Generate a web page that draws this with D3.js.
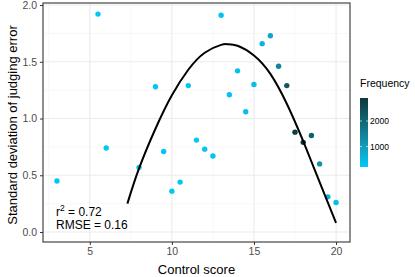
<!DOCTYPE html>
<html>
<head>
<meta charset="utf-8">
<script src="https://cdn.jsdelivr.net/npm/d3@7"></script>
<style>
  body { margin: 0; background: #fff; }
  svg { display: block; font-family: "Liberation Sans", Arial, sans-serif; }
</style>
</head>
<body>
<div id="chart"></div>
<script>
/* points */
const controlScore = [3, 5.5, 6, 8, 9, 9.5, 10, 10.5, 11, 11.5, 12, 12.5, 13, 13.5,
  14, 14.5, 15, 15.5, 16, 16.5, 17, 17.5, 18, 18.5, 19, 19.5, 20];
const judgingSd = [0.45, 1.92, 0.74, 0.57, 1.28, 0.71, 0.36, 0.44, 1.29, 0.81, 0.73, 0.67, 1.91, 1.21,
  1.42, 1.06, 1.30, 1.66, 1.73, 1.46, 1.29, 0.88, 0.79, 0.85, 0.60, 0.31, 0.26];
const frequency = [250, 260, 240, 250, 260, 250, 240, 250, 260, 250, 260, 270, 300, 320,
  330, 350, 400, 550, 800, 1450, 2250, 2800, 2850, 2150, 1150, 600, 350];

/* fitted curve */
const fitX = [7.29, 8, 9, 10, 11, 12, 13, 13.4, 14, 15, 16, 17, 18, 19, 20];
const fitY = [0.25, 0.56, 0.91, 1.205, 1.43, 1.58, 1.649, 1.655, 1.641, 1.555, 1.393, 1.13, 0.8, 0.44, 0.08];

const xTicks = [5, 10, 15, 20];
const yTicks = [0, 0.5, 1, 1.5, 2];
const legendTicks = [1000, 2000];

const W = 415, H = 277;
const margin = { top: 3, right: 65, bottom: 35, left: 43 };

const svg = d3.select("#chart").append("svg")
  .attr("width", W)
  .attr("height", H);

const x = d3.scaleLinear().domain([2.15, 20.85]).range([margin.left, W - margin.right]);
const y = d3.scaleLinear().domain([-0.088, 2.018]).range([H - margin.bottom, margin.top]);

const color = d3.scaleLinear()
  .domain([200, 2900])
  .range(["#00c9f8", "#0b3a3a"])
  .interpolate(d3.interpolateLab);

// grid lines (minor then major)
const grid = svg.append("g");
const xMinor = [2.5, 7.5, 12.5, 17.5];
const yMinor = [0.25, 0.75, 1.25, 1.75];
grid.selectAll(".xminor").data(xMinor).enter().append("line")
  .attr("x1", d => x(d)).attr("x2", d => x(d))
  .attr("y1", y.range()[0]).attr("y2", y.range()[1])
  .attr("stroke", "#f3f3f3").attr("stroke-width", 0.6);
grid.selectAll(".yminor").data(yMinor).enter().append("line")
  .attr("y1", d => y(d)).attr("y2", d => y(d))
  .attr("x1", x.range()[0]).attr("x2", x.range()[1])
  .attr("stroke", "#f3f3f3").attr("stroke-width", 0.6);
grid.selectAll(".xmajor").data(xTicks).enter().append("line")
  .attr("x1", d => x(d)).attr("x2", d => x(d))
  .attr("y1", y.range()[0]).attr("y2", y.range()[1])
  .attr("stroke", "#ebebeb").attr("stroke-width", 1.1);
grid.selectAll(".ymajor").data(yTicks).enter().append("line")
  .attr("y1", d => y(d)).attr("y2", d => y(d))
  .attr("x1", x.range()[0]).attr("x2", x.range()[1])
  .attr("stroke", "#ebebeb").attr("stroke-width", 1.1);

// points
const points = controlScore.map((c, i) => ({ x: c, y: judgingSd[i], f: frequency[i] }));
svg.append("g").selectAll("circle")
  .data(points)
  .enter()
  .append("circle")
  .attr("cx", d => x(d.x))
  .attr("cy", d => y(d.y))
  .attr("r", 2.7)
  .attr("fill", d => color(d.f));

// fitted curve
const fit = fitX.map((v, i) => [v, fitY[i]]);
svg.append("path")
  .datum(fit)
  .attr("fill", "none")
  .attr("stroke", "#000")
  .attr("stroke-width", 2)
  .attr("d", d3.line().x(d => x(d[0])).y(d => y(d[1])).curve(d3.curveNatural));

// panel border
svg.append("rect")
  .attr("x", x.range()[0]).attr("y", y.range()[1])
  .attr("width", x.range()[1] - x.range()[0])
  .attr("height", y.range()[0] - y.range()[1])
  .attr("fill", "none").attr("stroke", "#333").attr("stroke-width", 1.1);

// axes
const xAxis = svg.append("g")
  .attr("transform", `translate(0,${y.range()[0]})`)
  .call(d3.axisBottom(x).tickValues(xTicks).tickSize(3).tickPadding(3).tickFormat(d3.format("d")));
const yAxis = svg.append("g")
  .attr("transform", `translate(${x.range()[0]},0)`)
  .call(d3.axisLeft(y).tickValues(yTicks).tickSize(3).tickPadding(3).tickFormat(d3.format(".1f")));
[xAxis, yAxis].forEach(a => {
  a.select(".domain").remove();
  a.selectAll(".tick line").attr("stroke", "#333");
  a.selectAll(".tick text").attr("fill", "#4d4d4d").style("font-size", "10.5px")
    .style("font-family", "Liberation Sans, Arial, sans-serif");
});

// axis titles
svg.append("text")
  .attr("x", (x.range()[0] + x.range()[1]) / 2)
  .attr("y", 274)
  .attr("text-anchor", "middle")
  .style("font-size", "13px")
  .text("Control score");
svg.append("text")
  .attr("transform", `translate(12,125) rotate(-90)`)
  .attr("dy", "0.35em")
  .attr("text-anchor", "middle")
  .style("font-size", "13px")
  .text("Standard deviation of judging error");

// fit stats
const stats = svg.append("text").style("font-size", "12px");
stats.append("tspan").attr("x", 56).attr("y", 216).text("r");
stats.append("tspan").attr("dy", -5).style("font-size", "8.5px").text("2");
stats.append("tspan").attr("dy", 5).text(" = 0.72");
svg.append("text")
  .attr("x", 56).attr("y", 229)
  .style("font-size", "12px")
  .text("RMSE = 0.16");

// legend
const legendTop = 98, legendH = 69, legendX = 360, legendW = 8;
const ly = d3.scaleLinear().domain(color.domain()).range([legendTop + legendH, legendTop]);
const defs = svg.append("defs");
const grad = defs.append("linearGradient")
  .attr("id", "freq-grad")
  .attr("x1", 0).attr("y1", 1).attr("x2", 0).attr("y2", 0);
d3.range(0, 1.001, 0.1).forEach(t => {
  grad.append("stop")
    .attr("offset", t)
    .attr("stop-color", color(color.domain()[0] + t * (color.domain()[1] - color.domain()[0])));
});
svg.append("text")
  .attr("x", legendX)
  .attr("y", 87)
  .style("font-size", "10.5px")
  .text("Frequency");
svg.append("rect")
  .attr("x", legendX).attr("y", legendTop)
  .attr("width", legendW).attr("height", legendH)
  .attr("fill", "url(#freq-grad)");
legendTicks.forEach(t => {
  svg.append("line")
    .attr("x1", legendX).attr("x2", legendX + 2)
    .attr("y1", ly(t)).attr("y2", ly(t))
    .attr("stroke", "#fff").attr("stroke-width", 0.6);
  svg.append("line")
    .attr("x1", legendX + legendW - 2).attr("x2", legendX + legendW)
    .attr("y1", ly(t)).attr("y2", ly(t))
    .attr("stroke", "#fff").attr("stroke-width", 0.6);
  svg.append("text")
    .attr("x", legendX + legendW + 2)
    .attr("y", ly(t))
    .attr("dy", "0.35em")
    .style("font-size", "8.5px")
    .text(t);
});
</script>
</body>
</html>
